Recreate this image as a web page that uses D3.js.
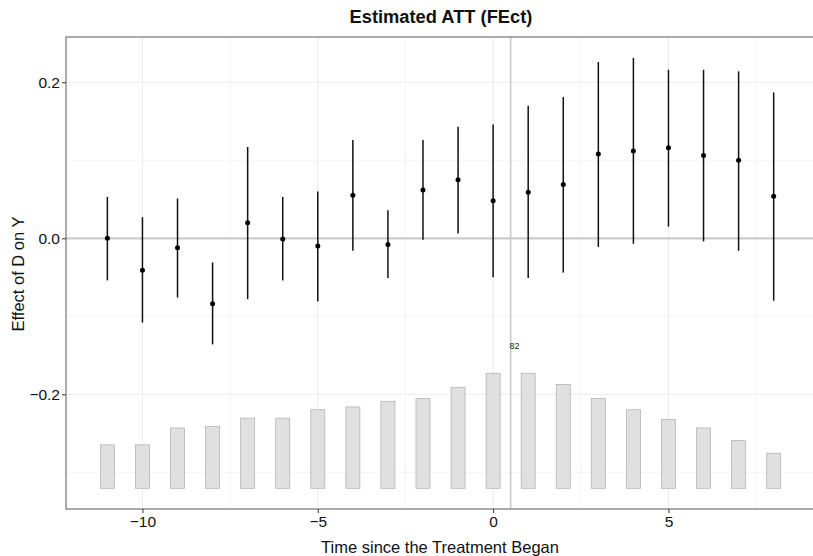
<!DOCTYPE html>
<html>
<head>
<meta charset="utf-8">
<script src="https://cdn.jsdelivr.net/npm/d3@7"></script>
<style>
  body { margin: 0; background: #fff; }
  svg { display: block; font-family: "Liberation Sans", Arial, sans-serif; }
</style>
</head>
<body>
<script>
// relative period, estimate, CI bounds, number of treated units
const periods = [-11, -10, -9, -8, -7, -6, -5, -4, -3, -2, -1, 0, 1, 2, 3, 4, 5, 6, 7, 8];
const att = [0.000, -0.041, -0.012, -0.084, 0.020, -0.001, -0.010, 0.055, -0.008, 0.062,
             0.075, 0.048, 0.059, 0.069, 0.108, 0.112, 0.116, 0.106, 0.100, 0.054];
const ciLower = [-0.054, -0.108, -0.076, -0.136, -0.078, -0.054, -0.081, -0.016, -0.051, -0.002,
                 0.006, -0.050, -0.051, -0.044, -0.011, -0.007, 0.015, -0.004, -0.016, -0.080];
const ciUpper = [0.053, 0.027, 0.051, -0.031, 0.117, 0.053, 0.060, 0.126, 0.036, 0.126,
                 0.143, 0.146, 0.170, 0.181, 0.226, 0.231, 0.216, 0.216, 0.214, 0.187];
const counts = [31, 31, 43, 44, 50, 50, 56, 58, 62, 64, 72, 82, 82, 74, 64, 56, 49, 43, 34, 25];
const xTicks = [-10, -5, 0, 5];
const yTicks = [-0.2, 0, 0.2];

const width = 813, height = 556;
const margin = { top: 37, right: -1, bottom: 47, left: 66 };

const svg = d3.select("body").append("svg")
    .attr("width", width)
    .attr("height", height);

const x = d3.scaleLinear().domain([-12.18, 9.15]).range([margin.left, width - margin.right]);
const y = d3.scaleLinear().domain([-0.347, 0.258]).range([height - margin.bottom, margin.top]);

const pLeft = margin.left, pRight = width - margin.right;
const pTop = margin.top, pBottom = height - margin.bottom;

// grid
const g = svg.append("g");
[-7.5, -2.5, 2.5, 7.5].forEach(v => {
    g.append("line").attr("x1", x(v)).attr("x2", x(v)).attr("y1", pTop).attr("y2", pBottom)
        .attr("stroke", "#f0f0f0").attr("stroke-width", 0.7);
});
[-0.3, -0.1, 0.1].forEach(v => {
    g.append("line").attr("x1", pLeft).attr("x2", pRight).attr("y1", y(v)).attr("y2", y(v))
        .attr("stroke", "#f0f0f0").attr("stroke-width", 0.7);
});
xTicks.forEach(v => {
    g.append("line").attr("x1", x(v)).attr("x2", x(v)).attr("y1", pTop).attr("y2", pBottom)
        .attr("stroke", "#ebebeb").attr("stroke-width", 1.1);
});
yTicks.forEach(v => {
    g.append("line").attr("x1", pLeft).attr("x2", pRight).attr("y1", y(v)).attr("y2", y(v))
        .attr("stroke", "#ebebeb").attr("stroke-width", 1.1);
});

// reference lines
svg.append("line").attr("x1", pLeft).attr("x2", pRight).attr("y1", y(0)).attr("y2", y(0))
    .attr("stroke", "#cccccc").attr("stroke-width", 2.2);
svg.append("line").attr("x1", x(0.5)).attr("x2", x(0.5)).attr("y1", pTop).attr("y2", pBottom)
    .attr("stroke", "#cccccc").attr("stroke-width", 1.6);

// count bars
const barBase = -0.3205, barMaxTop = -0.173;
const countY = d3.scaleLinear().domain([0, d3.max(counts)]).range([y(barBase), y(barMaxTop)]);
const barW = x(0.2) - x(-0.2);
svg.append("g").selectAll("rect")
    .data(periods)
    .join("rect")
    .attr("x", (d, i) => x(d) - barW / 2)
    .attr("width", barW)
    .attr("y", (d, i) => countY(counts[i]))
    .attr("height", (d, i) => countY(0) - countY(counts[i]))
    .attr("fill", "#e0e0e0")
    .attr("stroke", "#b5b5b5")
    .attr("stroke-width", 0.8);

svg.append("text")
    .attr("x", x(0.61))
    .attr("y", y(-0.1377))
    .attr("dy", "0.35em")
    .attr("text-anchor", "middle")
    .attr("font-size", 9)
    .attr("fill", "#222")
    .text(d3.max(counts));

// error bars and points
svg.append("g").selectAll("line")
    .data(periods)
    .join("line")
    .attr("x1", d => x(d)).attr("x2", d => x(d))
    .attr("y1", (d, i) => y(ciLower[i]))
    .attr("y2", (d, i) => y(ciUpper[i]))
    .attr("stroke", "#111")
    .attr("stroke-width", 1.5);

svg.append("g").selectAll("circle")
    .data(periods)
    .join("circle")
    .attr("cx", d => x(d))
    .attr("cy", (d, i) => y(att[i]))
    .attr("r", 2.5)
    .attr("fill", "#000");

// panel border
svg.append("rect").attr("x", pLeft).attr("y", pTop)
    .attr("width", pRight - pLeft).attr("height", pBottom - pTop)
    .attr("fill", "none").attr("stroke", "#666").attr("stroke-width", 1.1);

// axes
const xAxis = svg.append("g").attr("transform", `translate(0,${pBottom})`)
    .call(d3.axisBottom(x).tickValues(xTicks).tickSize(4).tickPadding(3)
        .tickFormat(d => d3.format("")(d).replace("-", "\u2212")));
const yAxis = svg.append("g").attr("transform", `translate(${pLeft},0)`)
    .call(d3.axisLeft(y).tickValues(yTicks).tickSize(4).tickPadding(2)
        .tickFormat(d => d3.format(".1f")(d).replace("-", "\u2212")));
[xAxis, yAxis].forEach(a => {
    a.select(".domain").remove();
    a.selectAll(".tick line").attr("stroke", "#333");
    a.selectAll(".tick text").attr("font-size", 15.5).attr("fill", "#111")
        .attr("font-family", "Liberation Sans, Arial, sans-serif");
});

// titles
svg.append("text")
    .attr("x", 441)
    .attr("y", 23)
    .attr("text-anchor", "middle")
    .attr("font-size", 18.3)
    .attr("font-weight", "bold")
    .attr("fill", "#111")
    .text("Estimated ATT (FEct)");

svg.append("text")
    .attr("x", 440)
    .attr("y", 553)
    .attr("text-anchor", "middle")
    .attr("font-size", 16.5)
    .attr("fill", "#111")
    .text("Time since the Treatment Began");

svg.append("text")
    .attr("transform", `translate(23.5,274) rotate(-90)`)
    .attr("text-anchor", "middle")
    .attr("font-size", 16.5)
    .attr("fill", "#111")
    .text("Effect of D on Y");
</script>
</body>
</html>
